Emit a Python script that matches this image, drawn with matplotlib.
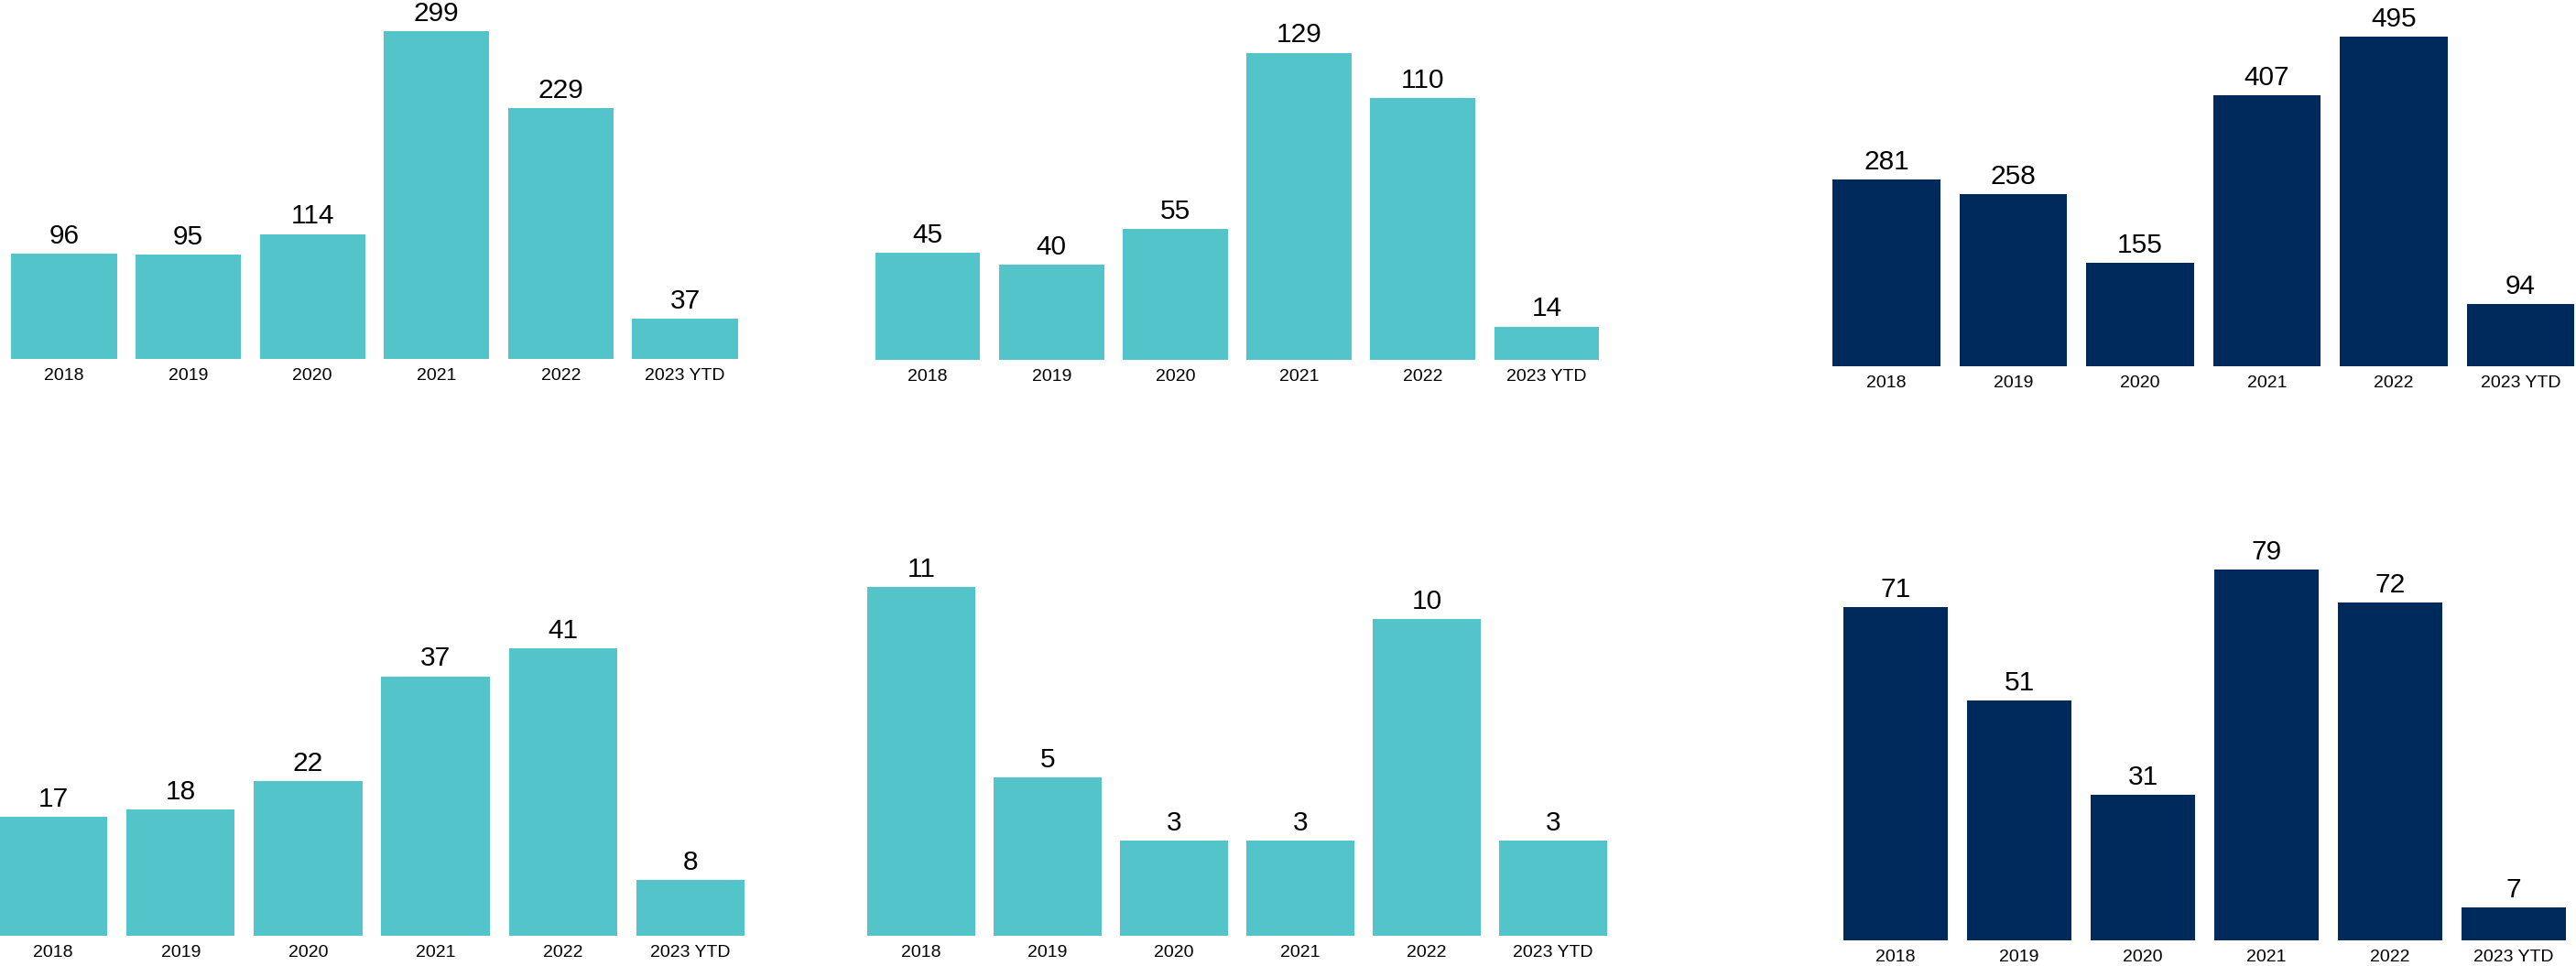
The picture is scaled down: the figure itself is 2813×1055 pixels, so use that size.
import matplotlib
matplotlib.use("agg")
import matplotlib.pyplot as plt
import numpy as np

plt.rcParams['font.family'] = ['Liberation Sans', 'DejaVu Sans']

years = ['2018', '2019', '2020', '2021', '2022', '2023 YTD']

# top row
top_left = [96, 95, 114, 299, 229, 37]
top_mid = [45, 40, 55, 129, 110, 14]
top_right = [281, 258, 155, 407, 495, 94]

# bottom row
bot_left = [17, 18, 22, 37, 41, 8]
bot_mid = [11, 5, 3, 3, 10, 3]
bot_right = [71, 51, 31, 79, 72, 7]

teal = '#54C4CB'
navy = '#002A5C'

W, H = 2813, 1055
fig = plt.figure(figsize=(W / 100, H / 100), dpi=100)


def panel(values, colour, c0, pitch, y_bottom, px_per_unit, y_top, width=0.85):
  # place axes in pixel coords, so first bar centre is at c0
  left = c0 - 0.5 * pitch
  ax = fig.add_axes([left / W, 1 - y_bottom / H, 6 * pitch / W, (y_bottom - y_top) / H])
  x = np.arange(len(values))
  bars = ax.bar(x, values, width=width, color=colour)
  ax.set_xlim(-0.5, 5.5)
  ax.set_ylim(0, (y_bottom - y_top) / px_per_unit)
  for b, v in zip(bars, values):
    ax.annotate(str(v), (b.get_x() + b.get_width() / 2, v),
                xytext=(0, 8), textcoords='offset points',
                ha='center', va='baseline', fontsize=21.5, color='black',
                annotation_clip=False)
  ax.set_xticks(x)
  ax.set_xticklabels(years, fontsize=14)
  ax.tick_params(axis='x', length=0, pad=7)
  ax.set_yticks([])
  for s in ax.spines.values():
    s.set_visible(False)
  ax.patch.set_alpha(0)
  return ax


panel(top_left, teal, 70, 135.6, 392, 1.197, 0)
panel(top_mid, teal, 1013, 135.2, 393, 2.6, 0)
panel(top_right, navy, 2060, 138.5, 400, 0.727, 0, width=0.845)
panel(bot_left, teal, 58, 139.2, 1022, 7.66, 580)
panel(bot_mid, teal, 1006, 138, 1022, 34.6, 580)
panel(bot_right, navy, 2070, 135, 1027, 5.13, 580)

fig.savefig('out.png', dpi=100)
